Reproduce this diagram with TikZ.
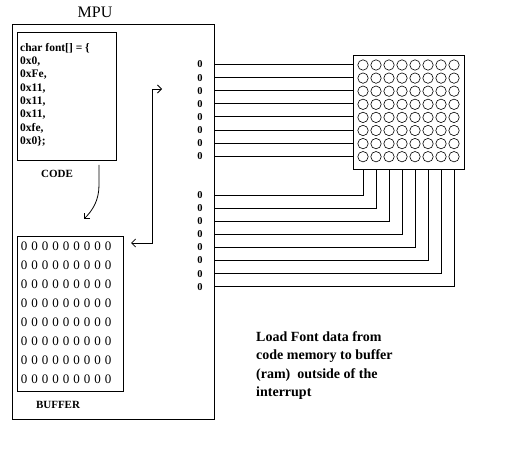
\documentclass[tikz,border=0pt]{standalone}
\usepackage{fontspec}
\setmainfont{Liberation Serif}
\usetikzlibrary{arrows.meta}

\tikzset{
  wire/.style={line width=0.8bp},
  box/.style={draw, line width=0.8bp, inner sep=0pt},
  dot/.style={draw, circle, line width=0.6bp, minimum size=10.4bp, inner sep=0pt},
  bitlabel/.style={inner sep=0pt, font=\fontsize{10.5bp}{10.5bp}\bfseries\selectfont},
  bufbit/.style={inner sep=0pt, font=\fontsize{13bp}{13bp}\selectfont},
  caption/.style={inner sep=0pt, font=\fontsize{11bp}{11bp}\bfseries\selectfont},
  >={Straight Barb[length=4bp,width=8bp]}
}

\begin{document}
\begin{tikzpicture}[x=1bp, y=-1bp]
			%%%%% START %%%%%
			\useasboundingbox (0,0) rectangle (511,466);
			
			\node[box, minimum width=202bp, minimum height=395bp] (mpu) at (113, 221.5) {};
			\node[inner sep=0pt, font=\fontsize{16bp}{16bp}\selectfont] (mpulabel) at (95, 12) {MPU};
			
			\node[box, minimum width=99bp, minimum height=128bp] (code) at (66.5, 96) {};
			\node[inner sep=0pt, anchor=north west, align=left, font=\fontsize{11.5bp}{13.3bp}\bfseries\selectfont] (codetext) at (20, 43)
			  {char font[] = \{\\0x0,\\0xFe,\\0x11,\\0x11,\\0x11,\\0xfe,\\0x0\};};
			\node[caption] (codelabel) at (57, 174) {CODE};
			
			\node[box, minimum width=106bp, minimum height=155bp] (buffer) at (70, 313.5) {};
			\foreach \r in {1,...,8}
			  \foreach \c in {1,...,9}
			    \node[bufbit] (buf-\r-\c) at ({24+10.5*(\c-1)}, {246+19*(\r-1)}) {0};
			\node[caption] (buflabel) at (58, 405) {BUFFER};
			
			\coordinate (codeout) at (99, 165);
			\coordinate (bufin) at (84, 219);
			\draw[wire, ->] (codeout) -- ++(0, 20) .. controls (99, 200) and (93, 210) .. (bufin);
			
			\coordinate (busdn) at (131, 243);
			\coordinate (busup) at (162, 89);
			\draw[wire, <->] (busdn) -- ++(21, 0) |- (busup);
			
			\node[box, minimum width=111bp, minimum height=114bp] (led) at (408.5, 112) {};
			\foreach \r in {1,...,8}
			  \foreach \c in {1,...,8}
			    \node[dot] (dot-\r-\c) at ({363+13*(\c-1)}, {65+13.1*(\r-1)}) {};
			
			% row lines
			\foreach \i in {1,...,8} {
			  \node[bitlabel] (rowzero\i) at (200, {64.5+13.1*(\i-1)}) {0};
			  \draw[wire] (mpu.east |- rowzero\i) -- (led.west |- rowzero\i);
			}
			% column lines
			\foreach \i in {1,...,8} {
			  \node[bitlabel] (colzero\i) at (200, {195+13.1*(\i-1)}) {0};
			  \draw[wire] (mpu.east |- colzero\i) -| (dot-8-\i |- led.south);
			}
			
			\node[inner sep=0pt, anchor=north west, align=left, font=\fontsize{14bp}{18.5bp}\bfseries\selectfont] (note) at (256, 331)
			  {Load Font data from\\code memory to buffer\\(ram)\ \ outside of the\\interrupt};
			
			%%%%% END %%%%%
\end{tikzpicture}
\end{document}
